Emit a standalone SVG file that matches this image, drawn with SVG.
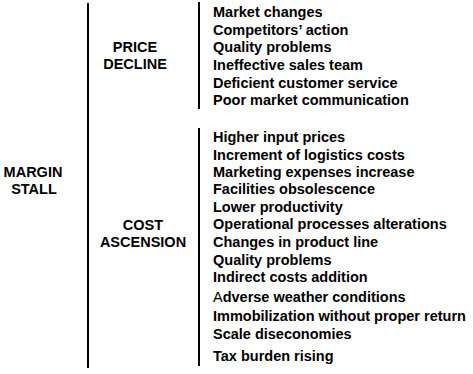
<svg xmlns="http://www.w3.org/2000/svg" width="473" height="374" viewBox="0 0 473 374">
<style>
text{font-family:"Liberation Sans",Arial,sans-serif;font-weight:bold;font-size:14.5px;fill:#000}
.c{text-anchor:middle}
.ln{stroke:#000;stroke-width:2;fill:none}
.n{font-weight:normal}
</style>
<rect width="473" height="374" fill="#fff"/>
<g id="connectors">
<line class="ln" x1="88" y1="3" x2="88" y2="368"/>
<line class="ln" x1="199" y1="2" x2="199" y2="109"/>
<line class="ln" x1="199" y1="128" x2="199" y2="366"/>
</g>
<g id="margin-stall">
<text class="c" x="33" y="177">MARGIN</text>
<text class="c" x="34" y="194">STALL</text>
</g>
<g id="price-decline">
<text class="c" x="135" y="52">PRICE</text>
<text class="c" x="135" y="69">DECLINE</text>
</g>
<g id="cost-ascension">
<text class="c" x="143" y="230">COST</text>
<text class="c" x="143" y="247">ASCENSION</text>
</g>
<g id="price-items">
<text x="213" y="17">Market changes</text>
<text x="213" y="34.5">Competitors’ action</text>
<text x="213" y="52">Quality problems</text>
<text x="213" y="70">Ineffective sales team</text>
<text x="213" y="87.5">Deficient customer service</text>
<text x="213" y="105">Poor market communication</text>
</g>
<g id="cost-items">
<text x="213" y="142">Higher input prices</text>
<text x="213" y="159.5">Increment of logistics costs</text>
<text x="213" y="177">Marketing expenses increase</text>
<text x="213" y="194">Facilities obsolescence</text>
<text x="213" y="211.5">Lower productivity</text>
<text x="213" y="229">Operational processes alterations</text>
<text x="213" y="246.5">Changes in product line</text>
<text x="213" y="264.5">Quality problems</text>
<text x="213" y="282">Indirect costs addition</text>
<text x="213" y="302"><tspan class="n">A</tspan>dverse weather conditions</text>
<text x="213" y="320.5">Immobilization without proper return</text>
<text x="213" y="338.5">Scale diseconomies</text>
<text x="213" y="361">Tax burden rising</text>
</g>
</svg>
